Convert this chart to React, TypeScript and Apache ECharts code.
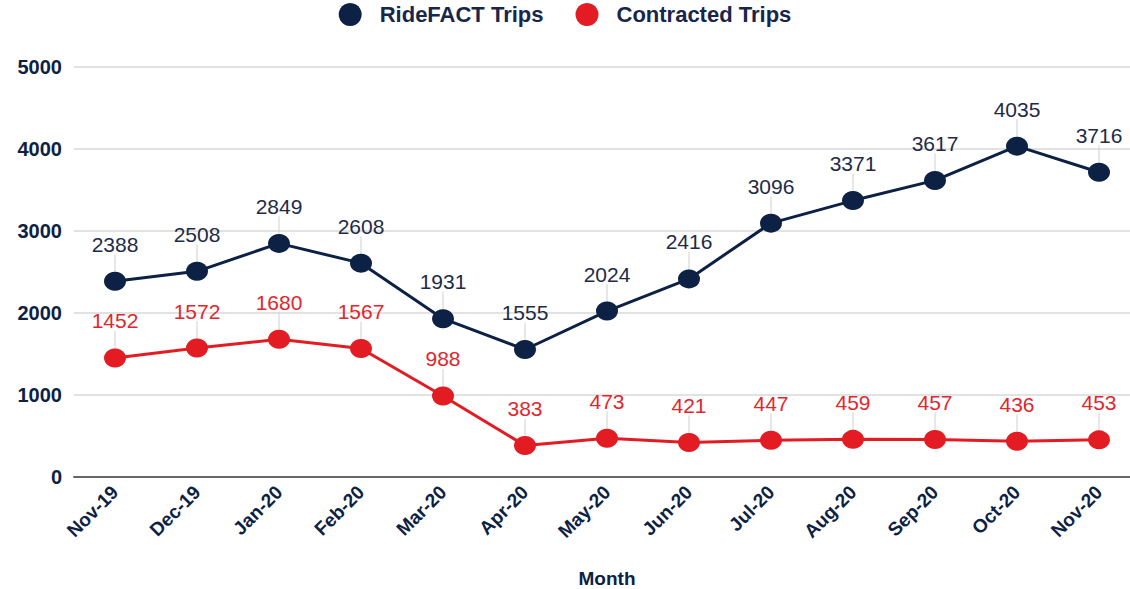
import React, { useEffect, useRef } from "react";
import * as echarts from "echarts";

const months = ["Nov-19", "Dec-19", "Jan-20", "Feb-20", "Mar-20", "Apr-20", "May-20", "Jun-20", "Jul-20", "Aug-20", "Sep-20", "Oct-20", "Nov-20"];
const rideFact = [2388, 2508, 2849, 2608, 1931, 1555, 2024, 2416, 3096, 3371, 3617, 4035, 3716];
const contracted = [1452, 1572, 1680, 1567, 988, 383, 473, 421, 447, 459, 457, 436, 453];
const yTicks = { min: 0, max: 5000, interval: 1000 };

const NAVY = "#0c2144";
const RED = "#e31b23";

function leader(name: string, values: number[]) {
  return {
    name: name + "-leader",
    type: "custom",
    silent: true,
    z: 1,
    encode: { x: 0, y: 1 },
    data: values.map((v, i) => [i, v]),
    renderItem: (params: any, api: any) => {
      const p = api.coord([api.value(0), api.value(1)]);
      return {
        type: "line",
        shape: { x1: p[0], y1: p[1], x2: p[0], y2: p[1] - 27 },
        style: { stroke: "#d0d0d0", lineWidth: 1 },
      };
    },
  };
}

export default function App() {
  const ref = useRef<HTMLDivElement>(null);
  useEffect(() => {
    if (!ref.current) return;
    const chart = echarts.init(ref.current, undefined, { renderer: "svg" });
    const labelBase = { show: true, position: "top", distance: 17, fontSize: 21, fontFamily: "Liberation Sans, Arial, sans-serif" };
    chart.setOption({
      animation: false,
      backgroundColor: "#ffffff",
      textStyle: { fontFamily: "Liberation Sans, Arial, sans-serif" },
      legend: {
        data: ["RideFACT Trips", "Contracted Trips"],
        top: -2,
        left: "center",
        icon: "circle",
        itemWidth: 23,
        itemHeight: 23,
        itemGap: 32,
        textStyle: { fontSize: 22, fontWeight: "bold", color: "#17264a", padding: [0, 0, 0, 13] },
      },
      grid: { left: 74, right: -10, top: 67, bottom: 112, outerBoundsMode: "none", containLabel: false },
      xAxis: {
        type: "category",
        data: months,
        boundaryGap: true,
        name: "Month",
        nameLocation: "middle",
        nameGap: 92,
        nameTextStyle: { fontSize: 19, fontWeight: "bold", color: NAVY },
        axisLine: { lineStyle: { color: "#666666", width: 2 } },
        axisTick: { show: false },
        axisLabel: { rotate: 45, fontSize: 19, fontWeight: "bold", color: NAVY, margin: 12, interval: 0 },
      },
      yAxis: {
        type: "value",
        min: yTicks.min,
        max: yTicks.max,
        interval: yTicks.interval,
        axisLine: { show: false },
        axisTick: { show: false },
        axisLabel: { fontSize: 20, fontWeight: "bold", color: NAVY, margin: 12, formatter: (v: number) => String(v) },
        splitLine: { lineStyle: { color: "#d9d9d9", width: 1.5 } },
      },
      series: [
        leader("RideFACT Trips", rideFact),
        leader("Contracted Trips", contracted),
        {
          name: "RideFACT Trips",
          type: "line",
          z: 3,
          data: rideFact,
          symbol: "circle",
          symbolSize: [22, 19],
          itemStyle: { color: NAVY },
          lineStyle: { color: NAVY, width: 3 },
          label: { ...labelBase, color: "#1e2b47" },
        },
        {
          name: "Contracted Trips",
          type: "line",
          z: 3,
          data: contracted,
          symbol: "circle",
          symbolSize: [22, 19],
          itemStyle: { color: RED },
          lineStyle: { color: RED, width: 3 },
          label: { ...labelBase, color: "#e2262e" },
        },
      ],
    });
    return () => chart.dispose();
  }, []);
  return <div ref={ref} style={{ position: "absolute", left: 0, top: 0, width: 1130, height: 589 }} />;
}
